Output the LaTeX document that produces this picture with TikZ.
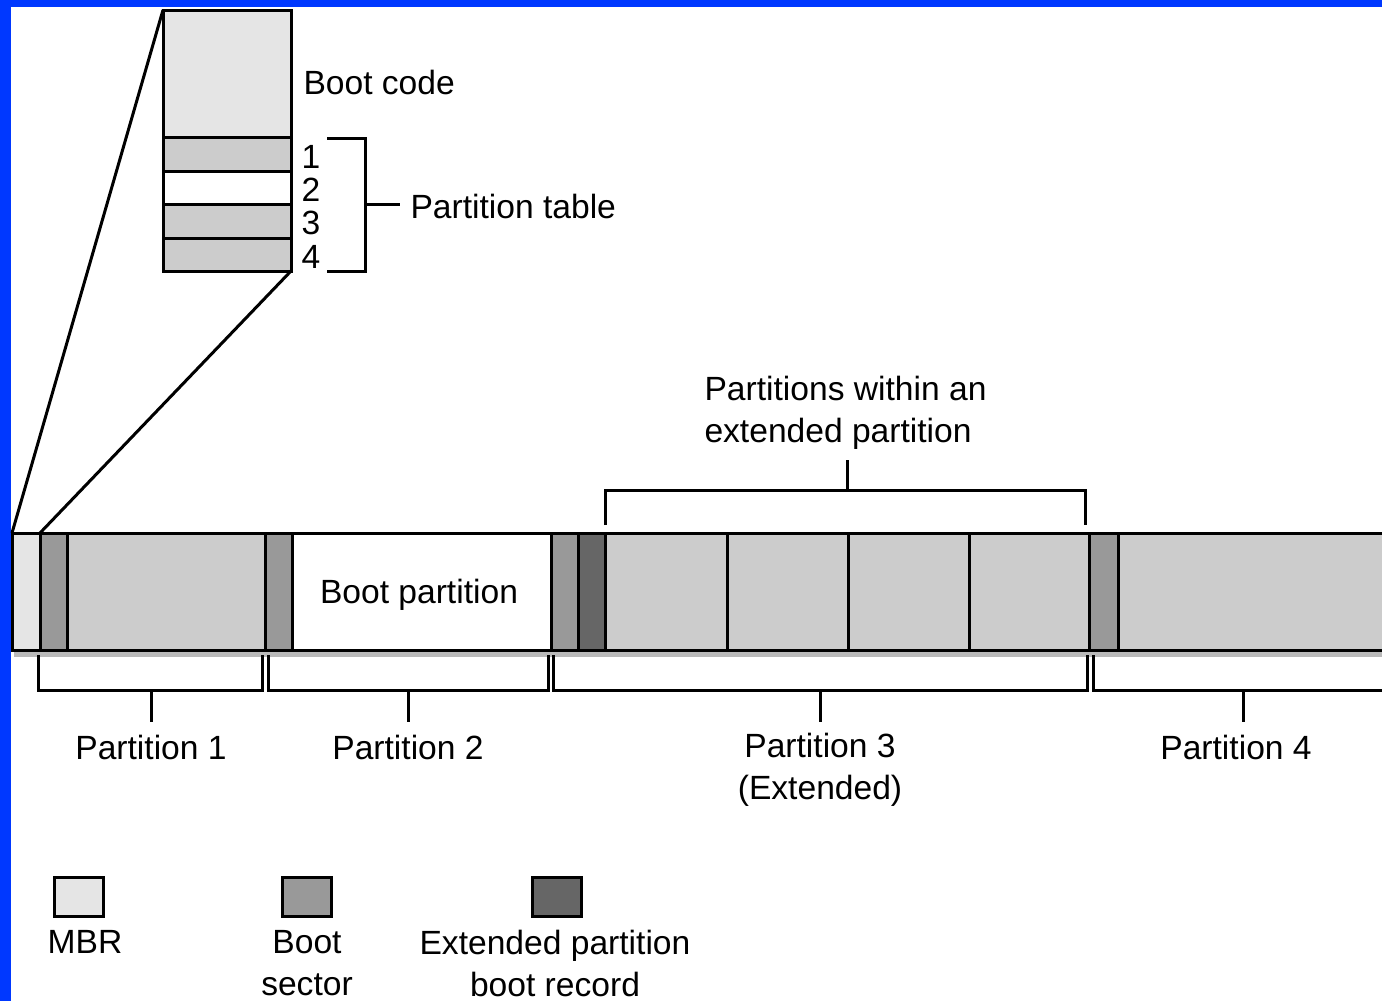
\documentclass[tikz,border=0pt]{standalone}
\usepackage{fontspec}
\setmainfont{Liberation Sans}
\definecolor{frameblue}{RGB}{0,56,255}
\definecolor{mbrc}{gray}{0.9}
\definecolor{bsc}{gray}{0.6}
\definecolor{epc}{gray}{0.4}
\definecolor{partc}{gray}{0.8}
\begin{document}
\begin{tikzpicture}[x=0.5pt,y=-0.5pt,line width=1.5pt,
  lbl/.style={font=\fontsize{16.8}{21}\selectfont, inner sep=0pt},
  seg/.style={draw=black, line width=1.5pt}]
\fill[frameblue] (0,0) rectangle (1382,1001);
\fill[white] (11,7) rectangle (1382,1001);
\useasboundingbox (0,0) rectangle (1382,1001);

% zoomed MBR
\filldraw[seg, fill=mbrc] (163,10) rectangle (291,137);
\filldraw[seg, fill=partc] (163,137) rectangle (291,171);
\filldraw[seg, fill=white] (163,171) rectangle (291,204);
\filldraw[seg, fill=partc] (163,204) rectangle (291,238);
\filldraw[seg, fill=partc] (163,238) rectangle (291,271);
\coordinate (ztl) at (163,10);
\coordinate (zbr) at (291,271);

\node[lbl, anchor=west] (bootcode) at (302,82) {Boot code};
\node[lbl] (n1) at (311,157) {1};
\node[lbl] (n2) at (311,190) {2};
\node[lbl] (n3) at (311,223) {3};
\node[lbl] (n4) at (311,257) {4};
\node[lbl, anchor=west] (ptable) at (409,206) {Partition table};
\draw (327,138) -- (365,138) -- (365,271) -- (327,271);
\coordinate (ptick) at (400,204);
\draw (365,204) -- (ptick);

% shadow under bar
\fill[gray!55] (14,650) rectangle (1390,657);

% bar
\filldraw[seg, fill=mbrc] (12,533) rectangle (40,650);
\filldraw[seg, fill=bsc] (40,533) rectangle (67,650);
\filldraw[seg, fill=partc] (67,533) rectangle (265,650);
\filldraw[seg, fill=bsc] (265,533) rectangle (292,650);
\filldraw[seg, fill=white] (292,533) rectangle (551,650);
\filldraw[seg, fill=bsc] (551,533) rectangle (578,650);
\filldraw[seg, fill=epc] (578,533) rectangle (605,650);
\filldraw[seg, fill=partc] (605,533) rectangle (727,650);
\filldraw[seg, fill=partc] (727,533) rectangle (848,650);
\filldraw[seg, fill=partc] (848,533) rectangle (969,650);
\filldraw[seg, fill=partc] (969,533) rectangle (1089,650);
\filldraw[seg, fill=bsc] (1089,533) rectangle (1118,650);
\filldraw[seg, fill=partc] (1118,533) rectangle (1395,650);
\node[lbl] (bootpart) at (419,595) {Boot partition};

% zoom lines
\coordinate (bl) at (12,533);
\coordinate (bs) at (40,533);
\draw (ztl) -- (bl);
\draw (zbr) -- (bs);

% top bracket
\node[lbl, anchor=north west, align=left] (within) at (703,375) {Partitions within an\\extended partition};
\draw (605,525) -- (605,490) -- (1085,490) -- (1085,525);
\draw (847,490) -- (847,460);

% bottom brackets
\draw (38,655) -- (38,690) -- (262,690) -- (262,655);
\draw (151,690) -- (151,722);
\draw (268,655) -- (268,690) -- (548,690) -- (548,655);
\draw (408,690) -- (408,722);
\draw (553,655) -- (553,690) -- (1087,690) -- (1087,655);
\draw (820,690) -- (820,722);
\draw (1093,655) -- (1093,690) -- (1395,690);
\draw (1243,690) -- (1243,722);

\node[lbl] (p1) at (151,747) {Partition 1};
\node[lbl] (p2) at (408,747) {Partition 2};
\node[lbl, anchor=north, align=center] (p3) at (820,732) {Partition 3\\(Extended)};
\node[lbl] (p4) at (1236,747) {Partition 4};

% legend
\filldraw[seg, fill=mbrc] (54,877) rectangle (103,916);
\filldraw[seg, fill=bsc] (282,877) rectangle (331,916);
\filldraw[seg, fill=epc] (532,877) rectangle (581,916);
\node[lbl, anchor=north] (lmbr) at (85,929) {MBR};
\node[lbl, anchor=north, align=center] (lbs) at (307,929) {Boot\\sector};
\node[lbl, anchor=north, align=center] (lep) at (555,929) {Extended partition\\boot record};
\end{tikzpicture}
\end{document}
